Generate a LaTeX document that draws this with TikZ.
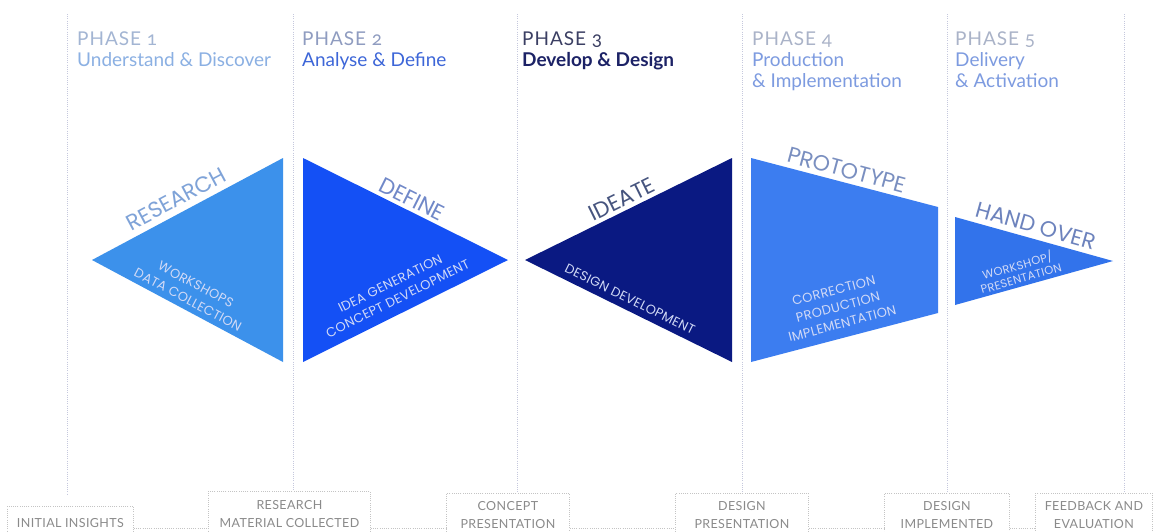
\documentclass[tikz,border=0pt]{standalone}
\usepackage{fontspec}
\setmainfont{Lato}
\newfontfamily\pop{Poppins}
\newfontfamily\popwide{Poppins}[LetterSpace=2.5]
\newfontfamily\latowide{Lato}[LetterSpace=3]
\newfontfamily\phasefont{Lato}[LetterSpace=5,Numbers=OldStyle]
\definecolor{cRes}{HTML}{3C91EB}
\definecolor{cDef}{HTML}{1450F5}
\definecolor{cIde}{HTML}{0A1982}
\definecolor{cPro}{HTML}{3C7DF0}
\definecolor{cHan}{HTML}{3273EB}
\definecolor{lRes}{HTML}{7FA3D8}
\definecolor{lDef}{HTML}{7088C8}
\definecolor{lIde}{HTML}{46547E}
\definecolor{lPro}{HTML}{7A8FC0}
\definecolor{lHan}{HTML}{6D83BD}
\definecolor{iTxt}{HTML}{D2DAF6}
\definecolor{ph1}{HTML}{A3B5D3}
\definecolor{sub1}{HTML}{8BB0E3}
\definecolor{ph2}{HTML}{8F9CC0}
\definecolor{sub2}{HTML}{3D66D8}
\definecolor{ph3}{HTML}{3B3F63}
\definecolor{sub3}{HTML}{1C2266}
\definecolor{ph4}{HTML}{AAB3C8}
\definecolor{sub4}{HTML}{7D9BE0}
\definecolor{lineC}{HTML}{C5C8DD}
\definecolor{boxC}{HTML}{C4C4C4}
\definecolor{boxT}{HTML}{8A8A8A}
\begin{document}
\begin{tikzpicture}[x=1pt,y=-1pt,
  vline/.style={draw=lineC, line width=0.9pt, dash pattern=on 1pt off 1.2pt},
  hline/.style={draw=boxC, line width=0.8pt, dash pattern=on 1pt off 1.2pt},
  stagebox/.style={draw=boxC, line width=0.8pt, dash pattern=on 1pt off 1.2pt, inner sep=0pt, align=center, text=boxT, font=\latowide\fontsize{12.5}{18}\selectfont, anchor=north west},
  phase/.style={anchor=base west, inner sep=0pt, font=\fontsize{19}{21}\selectfont},
  phasehead/.style={anchor=base west, inner sep=0pt, font=\phasefont\fontsize{19}{21}\selectfont},
  labbig/.style={font=\pop\fontsize{22}{24}\selectfont, inner sep=0pt},
  innertxt/.style={font=\popwide\fontsize{13}{17}\selectfont, inner sep=0pt, align=center, text=iTxt}
]
\useasboundingbox (0,0) rectangle (1154,531);
\clip (0,0) rectangle (1154,531);
\fill[white] (0,0) rectangle (1154,531);

% shapes
\fill[cRes] (92,260) -- (283,158) -- (283,362) -- cycle;
\fill[cDef] (303,158) -- (508,260) -- (303,362) -- cycle;
\fill[cIde] (525,260) -- (732,158) -- (732,362) -- cycle;
\fill[cPro] (751,158) -- (938,207) -- (938,313) -- (751,362) -- cycle;
\fill[cHan] (955,217) -- (1113,261) -- (955,305) -- cycle;

% headings
\node[phasehead, text=ph1] (p1) at (77,45) {PHASE 1};
\node[phase, text=sub1] (s1) at (77,66) {Understand \& Discover};
\node[phasehead, text=ph2] (p2) at (302,45) {PHASE 2};
\node[phase, text=sub2] (s2) at (302,66) {Analyse \& Define};
\node[phasehead, text=ph3] (p3) at (522,45) {PHASE 3};
\node[phase, text=sub3, font=\fontsize{19}{21}\selectfont\bfseries] (s3) at (522,66) {Develop \& Design};
\node[phasehead, text=ph4] (p4) at (752,45) {PHASE 4};
\node[phase, text=sub4] (s4a) at (752,66) {Production};
\node[phase, text=sub4] (s4b) at (752,87) {\& Implementation};
\node[phasehead, text=ph4] (p5) at (955,45) {PHASE 5};
\node[phase, text=sub4] (s5a) at (955,66) {Delivery};
\node[phase, text=sub4] (s5b) at (955,87) {\& Activation};

% shape labels
\node[labbig, text=lRes, rotate=28] (lres) at (176,199) {RESEARCH};
\node[labbig, text=lDef, rotate=-26.5] (ldef) at (412,199) {DEFINE};
\node[labbig, text=lIde, rotate=26.2] (lide) at (622,199) {IDEATE};
\node[labbig, text=lPro, rotate=-15] (lpro) at (847,170) {PROTOTYPE};
\node[labbig, text=lHan, rotate=-15.6] (lhan) at (1036,226) {HAND OVER};

\node[innertxt, rotate=-28] (ires) at (192,292) {WORKSHOPS\\DATA COLLECTION};
\node[innertxt, rotate=26.5] (idef) at (394,291) {IDEA GENERATION\\CONCEPT DEVELOPMENT};
\node[innertxt, rotate=-26.5] (iide) at (630,299) {DESIGN DEVELOPMENT};
\node[innertxt, rotate=14.7] (ipro) at (838,307) {CORRECTION\\PRODUCTION\\IMPLEMENTATION};
\node[innertxt, rotate=16, font=\popwide\fontsize{11.5}{13}\selectfont] (ihan) at (1019,271) {WORKSHOP/\\PRESENTATION};

% bottom boxes
\node[stagebox, minimum width=126, minimum height=34] (b1) at (7,506) {INITIAL INSIGHTS};
\node[stagebox, minimum width=162, minimum height=46] (b2) at (208,491) {RESEARCH\\MATERIAL COLLECTED};
\node[stagebox, minimum width=123, minimum height=44] (b3) at (446,493) {CONCEPT\\PRESENTATION};
\node[stagebox, minimum width=133, minimum height=44] (b4) at (675,493) {DESIGN\\PRESENTATION};
\node[stagebox, minimum width=125, minimum height=44] (b5) at (884,493) {DESIGN\\IMPLEMENTED};
\node[stagebox, minimum width=117, minimum height=44] (b6) at (1035,493) {FEEDBACK AND\\EVALUATION};

% vertical dotted lines
\coordinate (t1) at (67,14);
\coordinate (t2) at (293,14);
\coordinate (t3) at (517,14);
\coordinate (t4) at (742,14);
\coordinate (t5) at (947,14);
\coordinate (t6) at (1124,14);
\draw[vline, shorten >=12pt] (t1) -- (t1 |- b1.north);
\draw[vline] (t2) -- (t2 |- b2.north);
\draw[vline] (t3) -- (t3 |- b3.north);
\draw[vline] (t4) -- (t4 |- b4.north);
\draw[vline] (t5) -- (t5 |- b5.north);
\draw[vline] (t6) -- (t6 |- b6.north);

% horizontal connectors
\coordinate (hy) at (0,528);
\draw[hline] (b1.east |- hy) -- (b2.west |- hy);
\draw[hline] (b2.east |- hy) -- (b3.west |- hy);
\draw[hline] (b3.east |- hy) -- (b4.west |- hy);
\draw[hline] (b4.east |- hy) -- (b5.west |- hy);
\draw[hline] (b5.east |- hy) -- (b6.west |- hy);
\end{tikzpicture}
\end{document}
